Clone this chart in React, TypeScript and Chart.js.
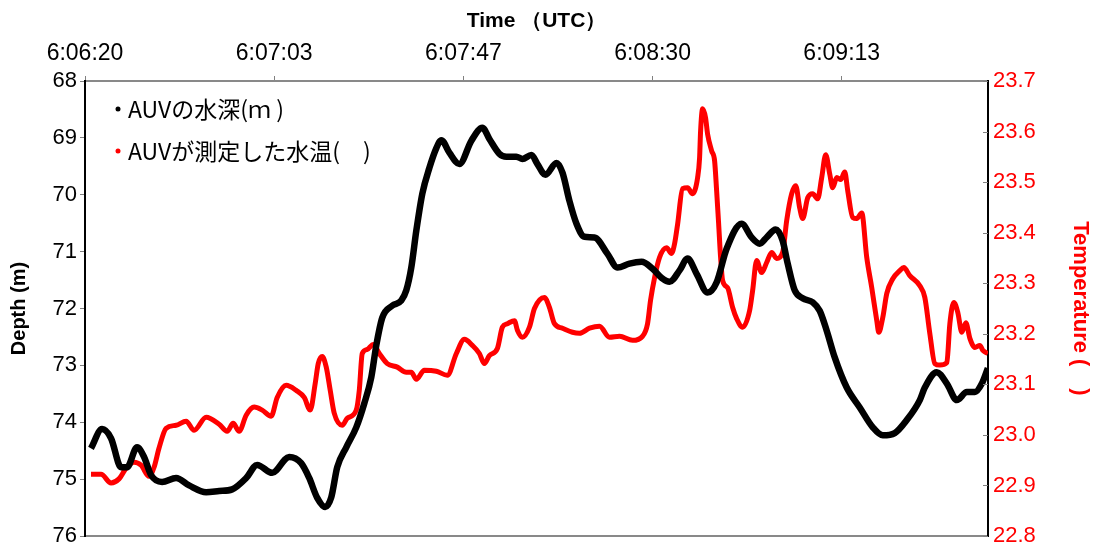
import React, { useEffect, useRef } from 'react';
import { Chart, registerables } from 'chart.js';

Chart.register(...registerables);

// Top time axis (seconds after 6:06:20, Excel major unit ≈ 43.2 s)
const timeLabels = ['6:06:20', '6:07:03', '6:07:47', '6:08:30', '6:09:13'];
const TICK_STEP = 43.2;
const X_MAX = 206.2;

const depthTicks = [68, 69, 70, 71, 72, 73, 74, 75, 76];
const tempTicks = [22.8, 22.9, 23.0, 23.1, 23.2, 23.3, 23.4, 23.5, 23.6, 23.7];

const legendLabels = ['AUVの水深(ｍ )', 'AUVが測定した水温(　)'];

// AUV depth (m)
const depthTime = [
  1.37, 3.89, 5.94, 8.23, 9.6, 11.89, 13.49, 15.09, 17.6, 20.8, 23.77, 27.66, 30.63, 33.6, 36.8,
  39.31, 42.74, 46.63, 49.37, 51.2, 53.03, 54.86, 56.23, 57.6, 59.66, 61.94, 63.77, 65.37, 66.51,
  67.89, 70.17, 72.23, 73.37, 74.51, 75.66, 77.03, 78.63, 80.23, 81.37, 83.2, 85.49, 88.23, 90.74,
  92.34, 94.63, 96.23, 98.51, 99.89, 101.94, 103.31, 105.14, 107.66, 109.03, 110.63, 112.23,
  114.06, 116.34, 119.31, 121.6, 124.34, 127.09, 129.6, 131.66, 133.49, 135.77, 137.6, 139.66,
  142.17, 144.23, 146.51, 149.94, 152.23, 154.06, 155.66, 157.71, 159.31, 160.46, 162.06, 163.89,
  166.17, 167.77, 169.37, 171.2, 173.94, 176.91, 179.89, 182.17, 184.91, 187.66, 190.63, 191.77,
  194.51, 196.8, 199.09, 201.37, 203.2, 204.8, 206.17,
];
const depthValue = [
  74.46, 74.12, 74.28, 74.79, 74.79, 74.44, 74.61, 74.93, 75.05, 74.98, 75.11, 75.23, 75.21, 75.18,
  74.98, 74.75, 74.89, 74.61, 74.72, 74.98, 75.33, 75.49, 75.32, 74.79, 74.44, 74.09, 73.67, 73.21,
  72.65, 72.16, 71.95, 71.86, 71.68, 71.28, 70.63, 69.98, 69.53, 69.18, 69.04, 69.26, 69.46, 69.05,
  68.82, 69.02, 69.28, 69.33, 69.33, 69.37, 69.3, 69.46, 69.65, 69.44, 69.61, 70.11, 70.51, 70.74,
  70.75, 71.04, 71.28, 71.21, 71.18, 71.3, 71.46, 71.53, 71.33, 71.12, 71.39, 71.72, 71.54, 70.95,
  70.51, 70.75, 70.86, 70.75, 70.61, 70.81, 71.21, 71.68, 71.82, 71.89, 72.04, 72.39, 72.86, 73.39,
  73.74, 74.09, 74.23, 74.19, 73.96, 73.61, 73.39, 73.12, 73.32, 73.61, 73.47, 73.47, 73.32, 73.05,
];

// Water temperature measured by the AUV
const tempTime = [
  1.37, 3.66, 5.94, 7.77, 9.37, 11.2, 12.8, 14.63, 15.77, 16.91, 18.51, 20.8, 23.09, 24.91, 27.66,
  30.63, 32.46, 33.83, 35.2, 36.8, 38.63, 40.46, 42.51, 43.89, 45.94, 48.23, 50.06, 51.43, 52.57,
  53.26, 54.17, 55.09, 56.0, 56.91, 58.74, 59.89, 61.94, 62.63, 63.31, 64.46, 65.83, 67.2, 69.03,
  71.31, 73.37, 74.51, 75.66, 77.49, 80.23, 82.74, 84.8, 86.63, 88.46, 90.06, 91.2, 92.34, 94.17,
  95.31, 96.46, 98.06, 98.74, 99.89, 101.49, 102.63, 104.91, 106.06, 107.2, 109.03, 111.31, 112.91,
  115.2, 117.49, 119.77, 122.06, 125.03, 127.31, 128.46, 129.14, 130.06, 131.2, 132.8, 133.94,
  134.63, 135.31, 136.46, 137.6, 138.74, 139.89, 140.34, 140.57, 141.03, 141.71, 142.17, 143.09,
  143.77, 144.23, 144.69, 145.14, 145.6, 146.74, 147.89, 148.8, 150.17, 151.77, 152.46, 153.37,
  154.51, 155.66, 156.8, 157.94, 159.31, 160.23, 161.37, 162.29, 163.2, 163.89, 165.03, 166.17,
  167.31, 168.23, 169.14, 170.06, 170.74, 171.66, 172.57, 173.49, 174.17, 175.31, 176.23, 177.37,
  178.51, 179.66, 180.8, 181.26, 182.17, 183.09, 184.46, 186.06, 186.97, 188.34, 190.63, 191.77,
  192.91, 194.06, 195.2, 196.8, 197.49, 198.4, 199.31, 200.23, 201.14, 202.06, 203.2, 204.34,
  205.03, 206.17,
];
const tempValue = [
  22.922, 22.922, 22.905, 22.913, 22.934, 22.946, 22.94, 22.918, 22.936, 22.974, 23.013, 23.019,
  23.027, 23.009, 23.035, 23.021, 23.007, 23.023, 23.007, 23.039, 23.055, 23.049, 23.037, 23.074,
  23.098, 23.088, 23.074, 23.049, 23.102, 23.141, 23.155, 23.134, 23.088, 23.043, 23.019, 23.033,
  23.049, 23.088, 23.161, 23.169, 23.179, 23.161, 23.141, 23.134, 23.124, 23.124, 23.11, 23.128,
  23.126, 23.118, 23.161, 23.189, 23.177, 23.161, 23.141, 23.157, 23.171, 23.213, 23.22, 23.226,
  23.207, 23.193, 23.213, 23.25, 23.272, 23.252, 23.22, 23.211, 23.203, 23.201, 23.211, 23.215,
  23.193, 23.195, 23.187, 23.195, 23.22, 23.266, 23.311, 23.351, 23.37, 23.359, 23.378, 23.416,
  23.487, 23.489, 23.477, 23.509, 23.548, 23.601, 23.645, 23.627, 23.595, 23.562, 23.542, 23.483,
  23.418, 23.351, 23.305, 23.291, 23.252, 23.23, 23.213, 23.246, 23.286, 23.345, 23.321, 23.341,
  23.361, 23.349, 23.361, 23.424, 23.477, 23.493, 23.449, 23.428, 23.469, 23.477, 23.467, 23.509,
  23.554, 23.516, 23.489, 23.509, 23.505, 23.52, 23.483, 23.43, 23.428, 23.439, 23.351, 23.291,
  23.226, 23.203, 23.232, 23.28, 23.309, 23.325, 23.331, 23.315, 23.295, 23.272, 23.201, 23.141,
  23.138, 23.143, 23.22, 23.262, 23.242, 23.203, 23.222, 23.191, 23.173, 23.177, 23.167, 23.161,
];

const FONT = "'Liberation Sans', Arial, sans-serif";

const innerLegend = {
  id: 'innerLegend',
  afterDraw(chart: any) {
    const { ctx, chartArea } = chart;
    const colors = ['#000000', '#ff0000'];
    ctx.save();
    ctx.font = "23px 'Noto Sans CJK JP', sans-serif";
    ctx.textBaseline = 'middle';
    ctx.textAlign = 'left';
    legendLabels.forEach((label, i) => {
      const x = chartArea.left + 33;
      const y = chartArea.top + 28 + i * 42;
      ctx.fillStyle = colors[i];
      ctx.beginPath();
      ctx.arc(x, y, 2.5, 0, Math.PI * 2);
      ctx.fill();
      ctx.fillStyle = '#000000';
      ctx.fillText(label, x + 10, y);
    });
    ctx.restore();
  },
};

const rightTicks = {
  id: 'rightTicks',
  afterDraw(chart: any) {
    const scale = chart.scales.y1;
    const { ctx } = chart;
    ctx.save();
    ctx.strokeStyle = '#808080';
    ctx.lineWidth = 1;
    scale.ticks.forEach((t: any) => {
      const y = Math.round(scale.getPixelForValue(t.value)) + 0.5;
      ctx.beginPath();
      ctx.moveTo(scale.left, y);
      ctx.lineTo(scale.left - 5, y);
      ctx.stroke();
    });
    ctx.restore();
  },
};

const noVerticalPadding = (s: any) => {
  s.paddingTop = 0;
  s.paddingBottom = 0;
};
const noHorizontalPadding = (s: any) => {
  s.paddingLeft = 0;
  s.paddingRight = 0;
};

export default function App() {
  const ref = useRef<HTMLCanvasElement | null>(null);

  useEffect(() => {
    if (!ref.current) return;
    const chart = new Chart(ref.current, {
      type: 'scatter',
      data: {
        datasets: [
          {
            label: legendLabels[0],
            data: depthTime.map((t, i) => ({ x: t, y: depthValue[i] })),
            xAxisID: 'x',
            yAxisID: 'y',
            showLine: true,
            borderColor: '#000000',
            backgroundColor: '#000000',
            borderWidth: 6.5,
            pointRadius: 0,
            tension: 0.4,
            cubicInterpolationMode: 'monotone',
          },
          {
            label: legendLabels[1],
            data: tempTime.map((t, i) => ({ x: t, y: tempValue[i] })),
            xAxisID: 'x',
            yAxisID: 'y1',
            showLine: true,
            borderColor: '#ff0000',
            backgroundColor: '#ff0000',
            borderWidth: 5,
            pointRadius: 0,
            tension: 0.4,
            cubicInterpolationMode: 'monotone',
          },
        ],
      },
      options: {
        animation: false,
        responsive: true,
        maintainAspectRatio: false,
        layout: { padding: 0 },
        plugins: {
          legend: { display: false },
          tooltip: { enabled: false },
        },
        scales: {
          x: {
            type: 'linear',
            position: 'top',
            min: 0,
            max: X_MAX,
            afterBuildTicks: (s: any) => {
              s.ticks = timeLabels.map((_, i) => ({ value: i * TICK_STEP }));
            },
            afterFit: (s: any) => {
              s.height = 81;
              noHorizontalPadding(s);
            },
            ticks: {
              autoSkip: false,
              maxRotation: 0,
              padding: 9,
              color: '#000000',
              font: { family: FONT, size: 23 },
              callback: (_v: any, i: number) => timeLabels[i],
            },
            grid: {
              display: true,
              drawOnChartArea: false,
              drawTicks: true,
              tickLength: 5,
              color: '#808080',
            },
            border: { display: true, color: '#898989', width: 2 },
            title: {
              display: true,
              text: 'Time （UTC）',
              color: '#000000',
              font: { family: FONT, size: 21, weight: 'bold' },
              padding: { top: 9, bottom: 0 },
            },
          },
          xb: {
            type: 'linear',
            position: 'bottom',
            display: true,
            min: 0,
            max: X_MAX,
            afterFit: (s: any) => {
              s.height = 12;
              noHorizontalPadding(s);
            },
            ticks: { display: false },
            grid: { display: false, drawTicks: false },
            border: { display: true, color: '#898989', width: 2 },
          },
          y: {
            type: 'linear',
            position: 'left',
            reverse: true,
            min: 68,
            max: 76,
            afterBuildTicks: (s: any) => {
              s.ticks = depthTicks.map((v) => ({ value: v }));
            },
            afterFit: (s: any) => {
              s.width = 85;
              noVerticalPadding(s);
            },
            ticks: {
              padding: 3,
              color: '#000000',
              font: { family: FONT, size: 22 },
              callback: (v: any) => String(v),
            },
            grid: {
              display: true,
              drawOnChartArea: false,
              drawTicks: true,
              tickLength: 5,
              color: '#808080',
            },
            border: { display: true, color: '#000000', width: 2 },
            title: {
              display: true,
              text: 'Depth (m)',
              color: '#000000',
              font: { family: FONT, size: 20, weight: 'bold' },
              padding: { top: 7, bottom: 0 },
            },
          },
          y1: {
            type: 'linear',
            position: 'right',
            min: 22.8,
            max: 23.7,
            afterBuildTicks: (s: any) => {
              s.ticks = tempTicks.map((v) => ({ value: v }));
            },
            afterFit: (s: any) => {
              s.width = 110;
              noVerticalPadding(s);
            },
            ticks: {
              padding: 5,
              color: '#ff0000',
              font: { family: FONT, size: 22 },
              callback: (v: any) => Number(v).toFixed(1),
            },
            grid: { display: false, drawTicks: false },
            border: { display: true, color: '#000000', width: 2 },
            title: {
              display: true,
              text: 'Temperature (　)',
              color: '#ff0000',
              font: { family: FONT, size: 22, weight: 'bold' },
              padding: { top: 5, bottom: 0 },
            },
          },
        },
      } as any,
      plugins: [innerLegend, rightTicks],
    });
    return () => chart.destroy();
  }, []);

  return (
    <div
      style={{
        position: 'fixed',
        left: 0,
        top: 0,
        width: 1098,
        height: 548,
        background: '#ffffff',
      }}
    >
      <canvas ref={ref} />
    </div>
  );
}
